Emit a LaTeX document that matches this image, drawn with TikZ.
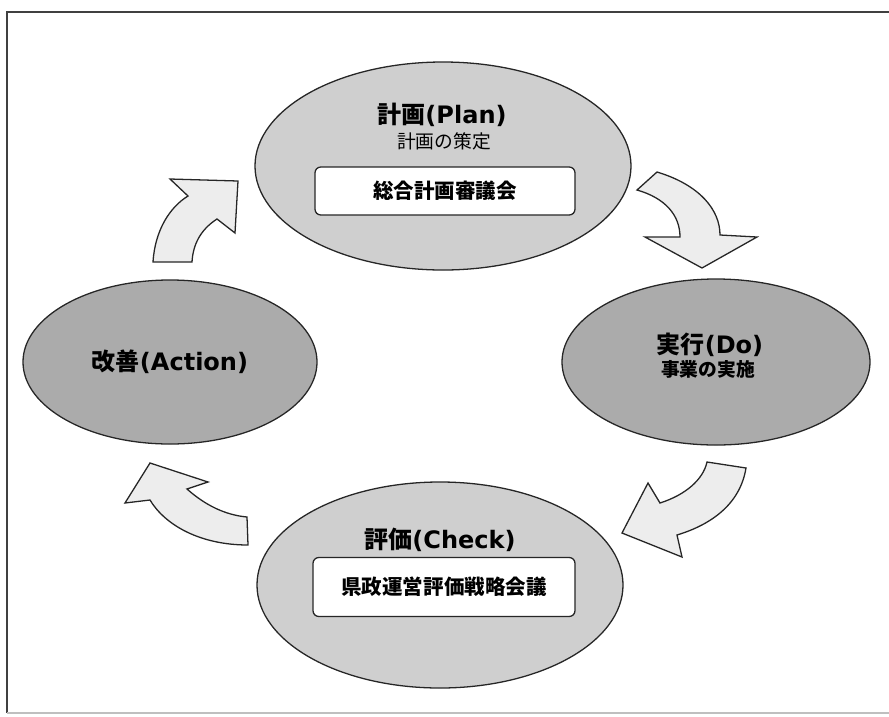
\documentclass[tikz,border=0pt]{standalone}
\usepackage{fontspec}
\setmainfont{Noto Sans CJK JP}
\newfontfamily\latinfont{DejaVu Sans}
\usepackage{tikz}
\usetikzlibrary{shapes.geometric, positioning}
\definecolor{lightgray}{gray}{0.81}
\definecolor{darkgray}{gray}{0.67}
\definecolor{arrowfill}{gray}{0.93}
\newcommand{\lat}[1]{{\latinfont\bfseries #1}}
\tikzset{
  stage/.style={ellipse, draw=black!85, line width=1.1pt, inner sep=0pt},
  lightstage/.style={stage, fill=lightgray},
  darkstage/.style={stage, fill=darkgray},
  council/.style={rectangle, draw=black!85, line width=1.1pt, rounded corners=5pt,
    fill=white, inner sep=0pt, font=\fontsize{17.5}{20}\selectfont\bfseries},
  title/.style={font=\fontsize{20.5}{24}\selectfont\bfseries, inner sep=0pt},
  subtitle/.style={font=\fontsize{16}{18}\selectfont, inner sep=0pt},
  blockarrow/.style={draw=black!85, line width=1.1pt, fill=arrowfill, line join=miter},
}
\begin{document}
\begin{tikzpicture}[x=0.03cm, y=-0.03cm]
  \useasboundingbox (0,0) rectangle (889,716);
  % frame
  \draw[line width=1.6pt, black!75] (889,12) -- (7,12) -- (7,713);
  \draw[line width=1.2pt, black!25] (7,713) -- (889,713);

  % the four stages
  \node[lightstage, minimum width=11.28cm, minimum height=6.24cm] (plan) at (443,166) {};
  \node[darkstage, minimum width=9.24cm, minimum height=4.98cm] (do) at (716,362) {};
  \node[lightstage, minimum width=10.98cm, minimum height=6.18cm] (check) at (440,585) {};
  \node[darkstage, minimum width=8.82cm, minimum height=4.92cm] (action) at (170,362) {};

  % texts
  \node[title] (plantitle) at (442,115) {計画\lat{(Plan)}};
  \node[subtitle] (plansub) at (444,141) {計画の策定};
  \node[council, minimum width=7.8cm, minimum height=1.44cm] (planbox) at (445,191) {総合計画審議会};

  \node[title] (dotitle) at (710,345) {実行\lat{(Do)}};
  \node[subtitle, font=\fontsize{16}{18}\selectfont\bfseries] (dosub) at (708,369) {事業の実施};

  \node[title] (checktitle) at (440,540) {評価\lat{(Check)}};
  \node[council, minimum width=7.86cm, minimum height=1.77cm] (checkbox) at (444,587) {県政運営評価戦略会議};

  \node[title] (actiontitle) at (170,362) {改善\lat{(Action)}};

  % curved block arrows
  % action -> plan
  \draw[blockarrow] (153,262) .. controls (155,230) and (170,207) .. (188,196)
    -- (170,179) -- (238,181) -- (235,233) -- (217,219)
    .. controls (200,230) and (193,245) .. (192,262) -- cycle;
  % plan -> do
  \draw[blockarrow] (637,190) -- (657,172) .. controls (700,185) and (720,210) .. (720,235)
    -- (757,237) -- (702,268) -- (645,237) -- (680,237)
    .. controls (680,215) and (665,198) .. cycle;
  % do -> check
  \draw[blockarrow] (707,462) -- (746,468) .. controls (740,505) and (710,525) .. (677,535)
    -- (682,557) -- (622,533) -- (648,483) -- (660,503)
    .. controls (685,495) and (703,480) .. cycle;
  % check -> action
  \draw[blockarrow] (247,517) -- (248,545) .. controls (200,545) and (165,525) .. (150,500)
    -- (125,503) -- (150,463) -- (208,482) -- (187,489)
    .. controls (205,505) and (225,515) .. cycle;
\end{tikzpicture}
\end{document}
